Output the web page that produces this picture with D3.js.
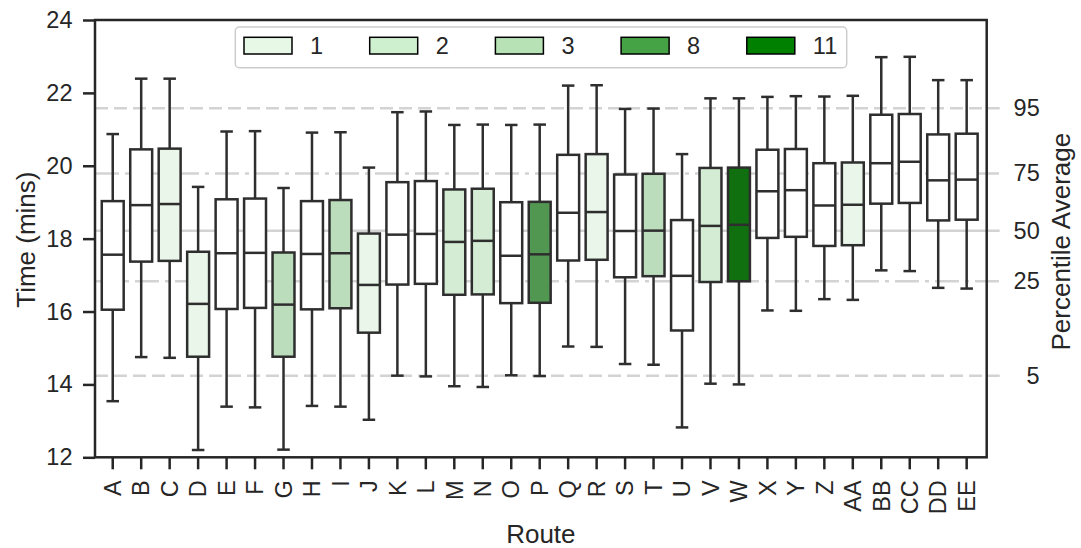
<!DOCTYPE html>
<html>
<head>
<meta charset="utf-8">
<script src="https://cdn.jsdelivr.net/npm/d3@7"></script>
<style>
  html, body { margin: 0; padding: 0; background: #fff; }
  svg { display: block; font-family: "Liberation Sans", Arial, sans-serif; }
</style>
</head>
<body>
<svg id="chart" width="1081" height="548"></svg>
<script>
// ---------------- data ----------------
const routes = ["A","B","C","D","E","F","G","H","I","J","K","L","M","N","O","P","Q","R","S","T","U","V","W","X","Y","Z","AA","BB","CC","DD","EE"];
const whiskerLow  = [13.54,14.75,14.73,12.20,13.39,13.37,12.21,13.41,13.39,13.03,14.24,14.22,13.95,13.93,14.25,14.23,15.04,15.03,14.56,14.54,12.82,14.02,14.00,16.03,16.02,16.34,16.32,17.13,17.11,16.65,16.63];
const quartile1   = [16.05,17.37,17.39,14.76,16.07,16.10,14.76,16.06,16.09,15.42,16.74,16.76,16.46,16.47,16.23,16.24,17.40,17.42,16.94,16.97,15.48,16.81,16.83,18.02,18.05,17.80,17.82,18.96,18.98,18.50,18.52];
const medians     = [17.56,18.92,18.95,16.21,17.60,17.61,16.19,17.58,17.60,16.73,18.11,18.13,17.91,17.94,17.53,17.57,18.71,18.73,18.21,18.22,16.98,18.35,18.38,19.30,19.33,18.91,18.93,20.07,20.11,19.60,19.62];
const quartile3   = [19.03,20.45,20.47,17.64,19.08,19.10,17.62,19.03,19.06,18.14,19.55,19.58,19.35,19.37,19.00,19.01,20.30,20.32,19.76,19.78,18.51,19.94,19.95,20.44,20.46,20.07,20.09,21.40,21.42,20.86,20.88];
const whiskerHigh = [20.87,22.39,22.39,19.42,20.94,20.95,19.39,20.91,20.92,19.95,21.47,21.49,21.12,21.13,21.12,21.13,22.20,22.21,21.56,21.57,20.32,21.85,21.85,21.89,21.91,21.90,21.92,22.98,22.99,22.35,22.35];
// level shown by colour (null = no level, white box)
const routeLevel  = [null,null,1,1,null,null,3,null,3,1,null,null,2,2,null,8,null,1,null,3,null,2,11,null,null,null,1,null,null,null,null];

const legendLevels = [1,2,3,8,11];
const levelColors  = ["#e7f8e7","#cff0cf","#b6e2b6","#45a345","#008000"];

const yTicks = [12,14,16,18,20,22,24];
const percentileLabels = ["95","75","50","25","5"];
const percentileValues = [21.58,19.79,18.22,16.83,14.24];
const percentileDash   = ["13,6","24,6,4,6",null,"24,6,4,6","13,6"];

// ---------------- layout ----------------
const svg = d3.select("#chart");
const pLeft = 95, pRight = 986.7, pTop = 20, pBottom = 457.3;
const ink = "#262626", boxInk = "#2e2e2e", tickFont = 23.5, labelFont = 26;

const x = d3.scaleBand().domain(routes).range([98.5, 980.9]).padding(0);
const y = d3.scaleLinear().domain([12, 24]).range([pBottom, pTop]);

const colorOf = d3.scaleOrdinal().domain(legendLevels).range(levelColors);
function desat(c) { const h = d3.hsl(c); h.s *= 0.75; return h.formatHex(); }

// reference percentile lines
const refG = svg.append("g");
percentileValues.forEach((v, i) => {
  refG.append("line")
    .attr("x1", pLeft).attr("x2", pRight + 13)
    .attr("y1", y(v)).attr("y2", y(v))
    .attr("stroke", "#d3d3d3").attr("stroke-width", 2.5)
    .attr("stroke-dasharray", percentileDash[i]);
});

// boxes
const bw = x.bandwidth();
const boxW = bw * 0.77, capW = bw * 0.44;
const boxes = svg.append("g").selectAll("g").data(routes).join("g")
  .attr("transform", d => `translate(${x(d) + bw / 2},0)`);

boxes.append("line").attr("x1", 0).attr("x2", 0)
  .attr("y1", (d, i) => y(whiskerHigh[i])).attr("y2", (d, i) => y(quartile3[i]))
  .attr("stroke", boxInk).attr("stroke-width", 2.5);
boxes.append("line").attr("x1", 0).attr("x2", 0)
  .attr("y1", (d, i) => y(quartile1[i])).attr("y2", (d, i) => y(whiskerLow[i]))
  .attr("stroke", boxInk).attr("stroke-width", 2.5);
boxes.append("line").attr("x1", -capW / 2).attr("x2", capW / 2)
  .attr("y1", (d, i) => y(whiskerHigh[i])).attr("y2", (d, i) => y(whiskerHigh[i]))
  .attr("stroke", boxInk).attr("stroke-width", 2.5);
boxes.append("line").attr("x1", -capW / 2).attr("x2", capW / 2)
  .attr("y1", (d, i) => y(whiskerLow[i])).attr("y2", (d, i) => y(whiskerLow[i]))
  .attr("stroke", boxInk).attr("stroke-width", 2.5);
boxes.append("rect")
  .attr("x", -boxW / 2).attr("width", boxW)
  .attr("y", (d, i) => y(quartile3[i]))
  .attr("height", (d, i) => y(quartile1[i]) - y(quartile3[i]))
  .attr("fill", (d, i) => routeLevel[i] == null ? "#ffffff" : desat(colorOf(routeLevel[i])))
  .attr("stroke", boxInk).attr("stroke-width", 2.5);
boxes.append("line").attr("x1", -boxW / 2).attr("x2", boxW / 2)
  .attr("y1", (d, i) => y(medians[i])).attr("y2", (d, i) => y(medians[i]))
  .attr("stroke", boxInk).attr("stroke-width", 2.5);

// axes
const yAxis = d3.axisLeft(y).tickValues(yTicks).tickSize(12).tickPadding(10.5);
const gy = svg.append("g").attr("transform", `translate(${pLeft},0)`).call(yAxis);
gy.select(".domain").remove();
gy.selectAll(".tick line").attr("stroke", ink).attr("stroke-width", 2.5);
gy.selectAll(".tick text").attr("font-size", tickFont).attr("fill", ink).attr("font-family", "Liberation Sans, Arial, sans-serif");

const xAxis = d3.axisBottom(x).tickSize(12).tickPadding(8);
const gx = svg.append("g").attr("transform", `translate(0,${pBottom})`).call(xAxis);
gx.select(".domain").remove();
gx.selectAll(".tick line").attr("stroke", ink).attr("stroke-width", 2.5);
gx.selectAll(".tick text")
  .attr("font-size", tickFont).attr("fill", ink).attr("font-family", "Liberation Sans, Arial, sans-serif")
  .attr("transform", "rotate(-90)")
  .attr("text-anchor", "end")
  .attr("x", -23).attr("y", 0).attr("dy", "0.35em");

const yRight = d3.axisRight(y).tickValues(percentileValues)
  .tickFormat((d, i) => percentileLabels[i]).tickSize(0).tickPadding(53);
const gr = svg.append("g").attr("transform", `translate(${pRight},0)`).call(yRight);
gr.select(".domain").remove();
gr.selectAll(".tick text").attr("font-size", tickFont).attr("fill", ink)
  .attr("text-anchor", "end").attr("font-family", "Liberation Sans, Arial, sans-serif");

// frame
svg.append("rect").attr("x", pLeft).attr("y", pTop)
  .attr("width", pRight - pLeft).attr("height", pBottom - pTop)
  .attr("fill", "none").attr("stroke", ink).attr("stroke-width", 2.5);

// axis titles
svg.append("text").attr("transform", `translate(26,${(pTop + pBottom) / 2 + 1}) rotate(-90)`)
  .attr("text-anchor", "middle").attr("dy", "0.35em")
  .attr("font-size", labelFont).attr("fill", ink).text("Time (mins)");
svg.append("text").attr("transform", `translate(1061,${(pTop + pBottom) / 2 + 3}) rotate(-90)`)
  .attr("text-anchor", "middle").attr("dy", "0.35em")
  .attr("font-size", labelFont).attr("fill", ink).text("Percentile Average");
svg.append("text").attr("x", (pLeft + pRight) / 2).attr("y", 534)
  .attr("text-anchor", "middle").attr("dy", "0.35em")
  .attr("font-size", labelFont).attr("fill", ink).text("Route");

// legend
const lg = svg.append("g");
lg.append("rect").attr("x", 235.3).attr("y", 27).attr("width", 611.4).attr("height", 40.7)
  .attr("rx", 4).attr("fill", "#ffffff").attr("fill-opacity", 0.8)
  .attr("stroke", "#cccccc").attr("stroke-width", 1.5);
const items = lg.selectAll("g.item").data(legendLevels).join("g").attr("class", "item")
  .attr("transform", (d, i) => `translate(${244 + i * 125.7},37.3)`);
items.append("rect").attr("width", 48).attr("height", 16.7)
  .attr("fill", d => colorOf(d)).attr("stroke", "#000").attr("stroke-width", 1.5);
items.append("text").attr("x", 66).attr("y", 8.5).attr("dy", "0.35em")
  .attr("font-size", tickFont).attr("fill", ink).text(d => d);
</script>
</body>
</html>
